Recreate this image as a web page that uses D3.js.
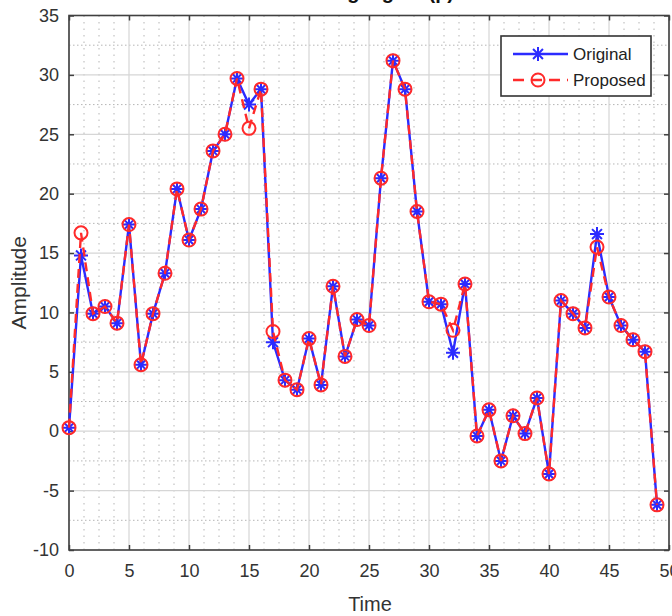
<!DOCTYPE html>
<html>
<head>
<meta charset="utf-8">
<script src="https://cdn.jsdelivr.net/npm/d3@7"></script>
<style>
  html, body { margin: 0; padding: 0; background: #fff; }
  svg { display: block; font-family: "Liberation Sans", Arial, sans-serif; }
</style>
</head>
<body>
<div id="chart"></div>
<script>
const time = d3.range(0, 50);
const original = [0.3, 14.8, 9.9, 10.5, 9.1, 17.4, 5.6, 9.9, 13.3, 20.4,
  16.1, 18.7, 23.6, 25.0, 29.7, 27.5, 28.8, 7.5, 4.3, 3.5,
  7.8, 3.9, 12.2, 6.3, 9.4, 8.9, 21.3, 31.2, 28.8, 18.5,
  10.9, 10.7, 6.6, 12.4, -0.4, 1.8, -2.5, 1.3, -0.2, 2.8,
  -3.6, 11.0, 9.9, 8.7, 16.6, 11.3, 8.9, 7.7, 6.7, -6.2];
const proposed = [0.3, 16.7, 9.9, 10.5, 9.1, 17.4, 5.6, 9.9, 13.3, 20.4,
  16.1, 18.7, 23.6, 25.0, 29.7, 25.5, 28.8, 8.4, 4.3, 3.5,
  7.8, 3.9, 12.2, 6.3, 9.4, 8.9, 21.3, 31.2, 28.8, 18.5,
  10.9, 10.7, 8.5, 12.4, -0.4, 1.8, -2.5, 1.3, -0.2, 2.8,
  -3.6, 11.0, 9.9, 8.7, 15.5, 11.3, 8.9, 7.7, 6.7, -6.2];
const xTicks = [0, 5, 10, 15, 20, 25, 30, 35, 40, 45, 50];
const yTicks = [-10, -5, 0, 5, 10, 15, 20, 25, 30, 35];
const seriesNames = ["Original", "Proposed"];

const width = 672, height = 616;
const plotL = 69, plotR = 669, plotT = 15.5, plotB = 550;
const blue = "#2b2bff", red = "#ff2a2a";

const svg = d3.select("#chart").append("svg")
  .attr("width", width)
  .attr("height", height);

const x = d3.scaleLinear().domain([0, 50]).range([plotL, plotR]);
const y = d3.scaleLinear().domain([-10, 35]).range([plotB, plotT]);

// minor grid
const minorX = d3.range(0, 50.01, 1.25).filter(v => v % 5 !== 0);
const minorY = d3.range(-10, 35.01, 2.5).filter(v => v % 5 !== 0);
svg.append("g").selectAll("line").data(minorX).join("line")
  .attr("x1", d => x(d)).attr("x2", d => x(d))
  .attr("y1", plotT).attr("y2", plotB)
  .attr("stroke", "#b5b5b5").attr("stroke-width", 1)
  .attr("stroke-dasharray", "1.5,5");
svg.append("g").selectAll("line").data(minorY).join("line")
  .attr("x1", plotL).attr("x2", plotR)
  .attr("y1", d => y(d)).attr("y2", d => y(d))
  .attr("stroke", "#b5b5b5").attr("stroke-width", 1)
  .attr("stroke-dasharray", "1.5,2.5");

// major grid
svg.append("g").selectAll("line").data(xTicks).join("line")
  .attr("x1", d => x(d)).attr("x2", d => x(d))
  .attr("y1", plotT).attr("y2", plotB)
  .attr("stroke", "#d6d6d6").attr("stroke-width", 1.2);
svg.append("g").selectAll("line").data(yTicks).join("line")
  .attr("x1", plotL).attr("x2", plotR)
  .attr("y1", d => y(d)).attr("y2", d => y(d))
  .attr("stroke", "#d6d6d6").attr("stroke-width", 1.2);

// axes (ticks inward, plain hyphen minus like the original)
const plain = d => String(d);
function styleAxis(g) {
  g.select(".domain").remove();
  g.selectAll(".tick line").attr("stroke", "#404040").attr("stroke-width", 1.5);
  g.selectAll(".tick text").attr("fill", "#333").attr("font-size", 18);
}
svg.append("g").attr("transform", `translate(0,${plotB})`)
  .call(d3.axisBottom(x).tickValues(xTicks).tickSize(-5).tickPadding(14).tickFormat(plain))
  .call(styleAxis);
svg.append("g").attr("transform", `translate(0,${plotT})`)
  .call(d3.axisTop(x).tickValues(xTicks).tickSize(-5).tickFormat(""))
  .call(styleAxis);
svg.append("g").attr("transform", `translate(${plotL},0)`)
  .call(d3.axisLeft(y).tickValues(yTicks).tickSize(-5).tickPadding(10).tickFormat(plain))
  .call(styleAxis);
svg.append("g").attr("transform", `translate(${plotR},0)`)
  .call(d3.axisRight(y).tickValues(yTicks).tickSize(-5).tickFormat(""))
  .call(styleAxis);

svg.append("rect")
  .attr("x", plotL).attr("y", plotT)
  .attr("width", plotR - plotL).attr("height", plotB - plotT)
  .attr("fill", "none").attr("stroke", "#404040").attr("stroke-width", 1.6);

// title (cut off at the top, only descenders show)
svg.append("text")
  .attr("x", 372).attr("y", -1)
  .attr("text-anchor", "middle")
  .attr("font-size", 20).attr("font-weight", "bold")
  .attr("fill", "#111")
  .text("Testing signal (p)");

// axis labels
svg.append("text")
  .attr("x", (plotL + plotR) / 2 + 1).attr("y", 611)
  .attr("text-anchor", "middle")
  .attr("font-size", 20).attr("fill", "#333")
  .text("Time");
svg.append("text")
  .attr("transform", `translate(26,${(plotT + plotB) / 2}) rotate(-90)`)
  .attr("text-anchor", "middle")
  .attr("font-size", 21).attr("fill", "#333")
  .text("Amplitude");

// star marker path (8 arms)
function starPath(r) {
  const p = d3.path();
  for (let i = 0; i < 4; i++) {
    const a = i * Math.PI / 4;
    p.moveTo(-r * Math.cos(a), -r * Math.sin(a));
    p.lineTo(r * Math.cos(a), r * Math.sin(a));
  }
  return p.toString();
}

const line = d3.line().x((d, i) => x(time[i])).y(d => y(d));

// Original
svg.append("path").datum(original)
  .attr("d", line)
  .attr("fill", "none").attr("stroke", blue).attr("stroke-width", 2.4);
svg.append("g").selectAll("path").data(original).join("path")
  .attr("transform", (d, i) => `translate(${x(time[i])},${y(d)})`)
  .attr("d", starPath(7))
  .attr("fill", "none").attr("stroke", blue).attr("stroke-width", 2);

// Proposed
svg.append("path").datum(proposed)
  .attr("d", line)
  .attr("fill", "none").attr("stroke", red).attr("stroke-width", 2.4)
  .attr("stroke-dasharray", "9,6");
svg.append("g").selectAll("circle").data(proposed).join("circle")
  .attr("cx", (d, i) => x(time[i])).attr("cy", d => y(d))
  .attr("r", 6.5)
  .attr("fill", "none").attr("stroke", red).attr("stroke-width", 2);

// legend
const legend = svg.append("g").attr("transform", "translate(501,36)");
legend.append("rect")
  .attr("width", 150).attr("height", 60)
  .attr("fill", "#fff").attr("stroke", "#333").attr("stroke-width", 1.6);
const rows = legend.selectAll("g.row").data(seriesNames).join("g")
  .attr("class", "row")
  .attr("transform", (d, i) => `translate(0,${18 + i * 26})`);
rows.append("line")
  .attr("x1", 12).attr("x2", 67)
  .attr("stroke", (d, i) => i ? red : blue).attr("stroke-width", 2.4)
  .attr("stroke-dasharray", (d, i) => i ? "11,7" : null);
rows.filter((d, i) => i === 0).append("path")
  .attr("transform", "translate(37,0)")
  .attr("d", starPath(7))
  .attr("fill", "none").attr("stroke", blue).attr("stroke-width", 2);
rows.filter((d, i) => i === 1).append("circle")
  .attr("cx", 37).attr("r", 6.5)
  .attr("fill", "none").attr("stroke", red).attr("stroke-width", 2);
rows.append("text")
  .attr("x", 72).attr("y", 6)
  .attr("font-size", 17).attr("fill", "#222")
  .text(d => d);
</script>
</body>
</html>
